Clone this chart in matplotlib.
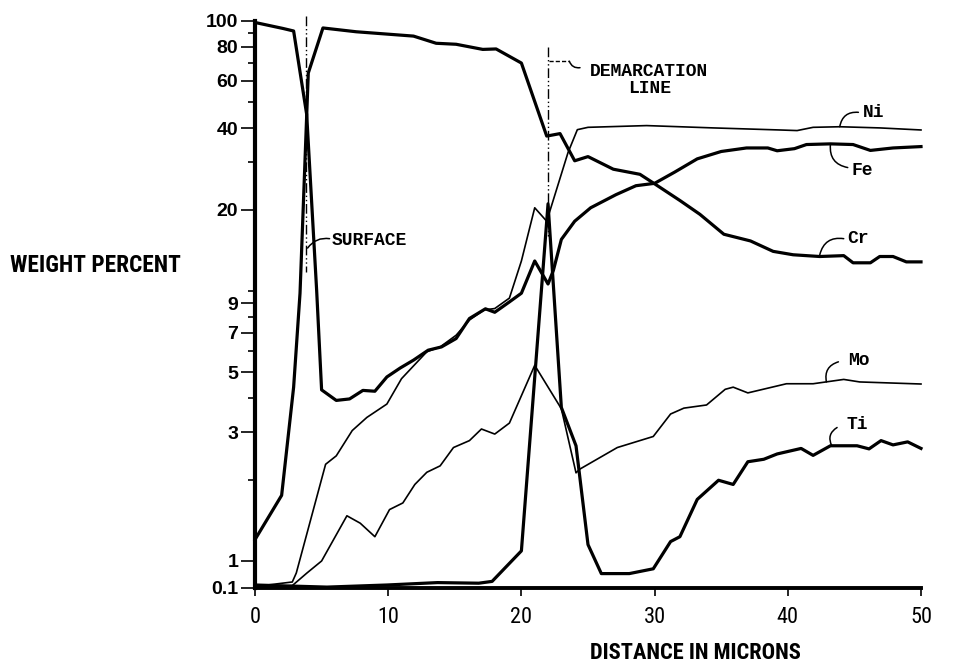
import os
import numpy as np
import matplotlib
matplotlib.use("Agg")
import matplotlib.pyplot as plt
from matplotlib import font_manager as fm

# ---------------- data (distance in microns, weight percent) ----------------
fe_x = [0, 2.1, 2.9, 3.88, 4.63, 5.0, 6.1, 7.1, 8.1, 9.0, 9.9, 10.9, 11.9, 13.0, 14.0, 15.1,
        16.1, 17.3, 18.0, 19.1, 20.0, 21.0, 22.0, 22.4, 23.0, 24.0, 25.2, 27.1, 28.6,
        30.0, 31.5, 33.2, 35.0, 36.9, 38.5, 39.2, 40.5, 41.4, 43.2, 44.9, 46.2, 47.9, 50.0]
fe_wt = [98.5, 93.6, 91.6, 45.0, 10.0, 4.3, 3.93, 3.98, 4.28, 4.25, 4.8, 5.18, 5.54, 6.03, 6.2,
         6.66, 7.9, 8.58, 8.33, 9.1, 9.8, 12.9, 10.6, 11.9, 15.5, 18.1, 20.3, 22.7, 24.5,
         25.0, 27.5, 30.8, 32.8, 33.8, 33.8, 33.0, 33.6, 34.8, 35.0, 34.8, 33.1, 33.8, 34.2]

cr_x = [0, 2.0, 2.9, 3.38, 4.0, 5.1, 7.6, 11.9, 13.6, 15.1, 17.1, 18.1, 20.0, 21.9, 22.9, 24.0,
        25.0, 26.9, 28.9, 30.0, 31.9, 33.4, 35.2, 37.2, 38.9, 40.4, 42.4, 44.2, 44.9,
        46.2, 46.9, 47.9, 48.9, 50.0]
cr_wt = [1.2, 1.75, 4.4, 9.8, 64, 94, 91, 87.7, 82.5, 81.8, 78.3, 78.6, 69.7, 37.4, 38.2, 30.3,
         31.4, 28.2, 27.0, 24.9, 21.6, 19.2, 16.2, 15.3, 14.0, 13.6, 13.4, 13.5, 12.7,
         12.7, 13.4, 13.4, 12.8, 12.8]

ni_x = [0, 2.8, 3.1, 5.3, 6.1, 7.3, 8.4, 9.9, 11.0, 12.9, 13.9, 15.1, 16.1, 17.2, 18.0,
        19.1, 20.0, 21.0, 21.9, 23.5, 24.2, 25.0, 29.4, 34.4, 39.4, 40.7, 41.9, 43.9,
        46.9, 50.0]
ni_wt = [0.15, 0.3, 0.6, 2.28, 2.45, 3.04, 3.4, 3.81, 4.73, 5.95, 6.2, 6.85, 7.8, 8.5, 8.6,
         9.4, 12.9, 20.3, 18.1, 32.5, 39.5, 40.3, 40.9, 40.1, 39.4, 39.2, 40.3, 40.5,
         40.1, 39.4]

mo_x = [0, 2.8, 3.9, 5.0, 6.9, 7.9, 9.0, 10.1, 11.1, 12.0, 12.9, 13.9, 14.9, 16.1, 17.0,
        18.0, 19.1, 21.0, 23.0, 24.1, 24.4, 27.2, 29.9, 31.2, 32.2, 33.9, 35.3, 35.9,
        37.0, 39.9, 41.9, 44.2, 45.4, 50.0]
mo_wt = [0.12, 0.18, 0.6, 1.0, 1.47, 1.38, 1.23, 1.55, 1.64, 1.92, 2.13, 2.25, 2.63, 2.79, 3.08,
         2.95, 3.24, 5.3, 3.66, 2.12, 2.19, 2.63, 2.89, 3.5, 3.68, 3.78, 4.32, 4.4,
         4.19, 4.53, 4.53, 4.7, 4.6, 4.52]

ti_x = [0, 5.4, 9.9, 13.7, 16.8, 17.8, 20.0, 22.0, 23.0, 24.1, 25.0, 26.0, 28.1, 29.9,
        31.2, 31.9, 33.2, 34.8, 35.9, 37.0, 38.2, 39.2, 41.0, 41.9, 43.2, 45.2, 46.1,
        47.0, 47.9, 49.0, 50.0]
ti_wt = [0.2, 0.13, 0.2, 0.28, 0.26, 0.32, 1.09, 21.0, 3.7, 2.67, 1.15, 0.58, 0.58, 0.74,
         1.18, 1.23, 1.69, 1.99, 1.92, 2.33, 2.38, 2.49, 2.61, 2.46, 2.67, 2.67, 2.6,
         2.79, 2.69, 2.76, 2.61]

y_tick_values = [0.1, 1, 3, 5, 7, 9, 20, 40, 60, 80, 100]
y_tick_labels = ["0.1", "1", "3", "5", "7", "9", "20", "40", "60", "80", "100"]
y_minor_values = [2, 4, 6, 8, 10, 30, 50, 70, 90]
x_tick_values = [0, 10, 20, 30, 40, 50]

surface_x = 3.8
demarcation_x = 22.0


# ---------------- find a condensed sans font if one is installed ----------------
def find_condensed(bold):
    prefs = ["liberationsansnarrow", "robotocondensed", "dejavusanscondensed",
             "opensans_condensed", "opensanscondensed", "narrow", "condensed"]
    files = [f.fname for f in fm.fontManager.ttflist]
    for p in prefs:
        for fn in files:
            base = os.path.basename(fn).lower().replace("-", "")
            if p in base and (("bold" in base) == bold) and "italic" not in base \
                    and "oblique" not in base:
                return fn
    return None


cond_bold = find_condensed(True)
cond_reg = find_condensed(False)


def cond_props(bold, size):
    fn = cond_bold if bold else cond_reg
    if fn:
        return fm.FontProperties(fname=fn, size=size)
    return fm.FontProperties(family="DejaVu Sans", weight="bold" if bold else "normal",
                             size=size)


# ---------------- axis scale: log above 1, compressed linear below ----------------
def fwd(v):
    v = np.asarray(v, dtype=float)
    return np.where(v >= 1, np.log10(np.maximum(v, 1e-12)), (v - 1.0) / 9.0)


def inv(u):
    u = np.asarray(u, dtype=float)
    return np.where(u >= 0, 10.0 ** np.minimum(u, 50), 1.0 + 9.0 * u)


W, H = 966, 671
AX_TOP, AX_BOT = 20.7, 588.0
fig = plt.figure(figsize=(W / 100, H / 100), dpi=100)
ax = fig.add_axes([255 / W, (H - AX_BOT) / H, 666 / W, (AX_BOT - AX_TOP) / H])
ax.set_yscale("function", functions=(fwd, inv))
ax.set_xlim(0, 50)
ax.set_ylim(0.1, 100)

thick = 2.3
thin = 1.2
kw = dict(color="black", solid_joinstyle="round", clip_on=False)
ax.plot(fe_x, fe_wt, lw=thick, **kw)
ax.plot(cr_x, cr_wt, lw=thick, **kw)
ax.plot(ti_x, ti_wt, lw=thick, **kw)
ax.plot(ni_x, ni_wt, lw=thin, **kw)
ax.plot(mo_x, mo_wt, lw=thin, **kw)

# dash-dot reference lines
dd = (0, (7, 2, 1, 2, 1, 2))
ax.plot([surface_x, surface_x], [104, 11.7], color="black", lw=1.0, ls=dd, clip_on=False)
ax.plot([demarcation_x, demarcation_x], [80, 16], color="black", lw=1.0, ls=dd, clip_on=False)

# spines / ticks
for s in ("top", "right"):
    ax.spines[s].set_visible(False)
ax.spines["left"].set_linewidth(3.0)
ax.spines["bottom"].set_linewidth(2.8)

ax.set_yticks(y_tick_values)
ax.set_yticklabels(y_tick_labels)
ax.set_yticks(y_minor_values, minor=True)
ax.set_xticks(x_tick_values)
ax.set_xticklabels([str(v) for v in x_tick_values])
ax.tick_params(axis="y", which="major", direction="out", length=10, width=1.2, pad=2)
ax.tick_params(axis="y", which="minor", direction="out", length=5, width=1.2)
ax.tick_params(axis="x", which="major", direction="out", length=6, width=1.2, pad=7.5)
ax.tick_params(axis="x", which="minor", length=0)

for lab in ax.get_yticklabels():
    lab.set_fontfamily(["Liberation Sans", "DejaVu Sans"])
    lab.set_fontweight("bold")
    lab.set_fontsize(14)
for lab in ax.get_xticklabels():
    lab.set_fontproperties(cond_props(False, 16))

ylab = fig.text(10 / W, 1 - 265 / H, "WEIGHT PERCENT", ha="left", va="center",
                fontproperties=cond_props(True, 17))
xlab = fig.text(695 / W, 1 - 653 / H, "DISTANCE IN MICRONS", ha="center", va="center",
                fontproperties=cond_props(True, 17))

# fit the axis-title widths to the reference
renderer = fig.canvas.get_renderer()
for t, target in ((ylab, 170.0), (xlab, 212.0)):
    w = t.get_window_extent(renderer).width
    t.set_fontsize(t.get_fontsize() * target / w)

mono = dict(family=["Liberation Mono", "DejaVu Sans Mono"], fontweight="bold", fontsize=13)
lead = dict(arrowstyle="-", lw=1.1, color="black", shrinkA=0, shrinkB=0)

# curve labels with curved leaders
ax.annotate("", xy=(43.9, 40.5), xytext=(45.3, 45.8),
            arrowprops=dict(connectionstyle="arc3,rad=0.45", **lead), annotation_clip=False)
ax.text(45.6, 45.8, "Ni", ha="left", va="center", **mono)

ax.annotate("", xy=(43.2, 34.8), xytext=(44.5, 28.6),
            arrowprops=dict(connectionstyle="arc3,rad=-0.45", **lead), annotation_clip=False)
ax.text(44.8, 27.8, "Fe", ha="left", va="center", **mono)

ax.annotate("", xy=(42.4, 13.6), xytext=(44.2, 15.6),
            arrowprops=dict(connectionstyle="arc3,rad=0.45", **lead), annotation_clip=False)
ax.text(44.5, 15.6, "Cr", ha="left", va="center", **mono)

ax.annotate("", xy=(42.9, 4.6), xytext=(43.8, 5.46),
            arrowprops=dict(connectionstyle="arc3,rad=0.45", **lead), annotation_clip=False)
ax.text(44.5, 5.5, "Mo", ha="left", va="center", **mono)

ax.annotate("", xy=(43.3, 2.67), xytext=(43.7, 3.12),
            arrowprops=dict(connectionstyle="arc3,rad=0.45", **lead), annotation_clip=False)
ax.text(44.4, 3.19, "Ti", ha="left", va="center", **mono)

# SURFACE and DEMARCATION LINE labels
ax.annotate("", xy=(surface_x + 0.15, 14.4), xytext=(5.6, 15.6),
            arrowprops=dict(connectionstyle="arc3,rad=0.3", **lead), annotation_clip=False)
ax.text(5.75, 15.4, "SURFACE", ha="left", va="center", **mono)

ax.plot([demarcation_x + 0.1, 23.6], [70.8, 70.8], color="black", lw=1.0,
        ls=(0, (3, 1.5)), clip_on=False)
ax.annotate("", xy=(23.6, 70.8), xytext=(24.4, 67.0),
            arrowprops=dict(connectionstyle="arc3,rad=-0.4", **lead), annotation_clip=False)
ax.text(29.6, 60.4, "DEMARCATION\nLINE", ha="center", va="center",
        multialignment="center", linespacing=1.05, **mono)

fig.savefig("out.png", dpi=100)
